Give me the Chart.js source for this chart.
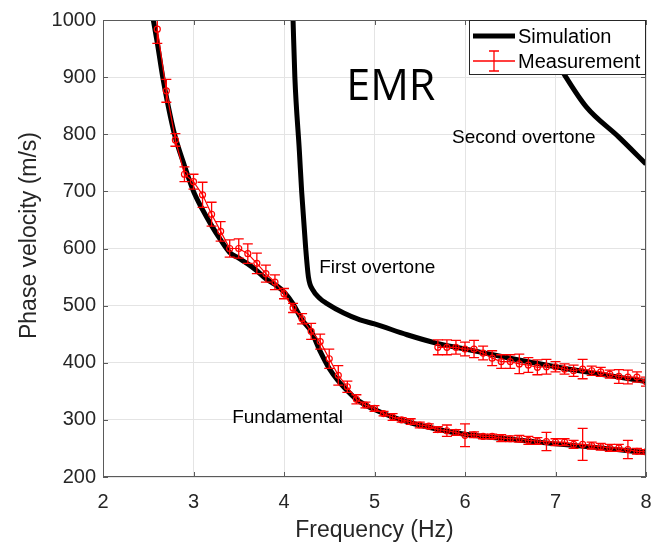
<!DOCTYPE html>
<html><head><meta charset="utf-8">
<script src="https://cdn.jsdelivr.net/npm/chart.js@4/dist/chart.umd.min.js"></script>
<style>html,body{margin:0;padding:0;background:#fff}</style>
</head><body>
<canvas id="c" width="666" height="556"></canvas>
<script>
// ---- Simulation curves ----
const simFundFreq = [2.556,2.6,2.66,2.72,2.79,2.9,3.0,3.1,3.2,3.3,3.4,3.5,3.6,3.7,3.8,3.9,4.0,4.1,4.2,4.3,4.4,4.5,4.6,4.7,4.8,4.9,5.0,5.2,5.4,5.6,5.8,6.0,6.5,7.0,7.5,8.0];
const simFundVel  = [1000,960,900,850,800,745,700,668,640,615,593,583,573,561,547,537,524,503,475,455,420,390,368,351,336,326,318,305,295,287,280,275,266,258,251,243];

const simFirstFreq = [4.10,4.12,4.17,4.195,4.24,4.27,4.32,4.4,4.47,4.66,4.84,5.0,5.36,5.69,6.0,6.5,7.0,7.5,8.0];
const simFirstVel  = [1000,900,770,700,600,550,527,512,504,487,475,468,449,434,424,408,393,380,367];

const simSecondFreq = [6.78,6.93,7.1,7.34,7.7,8.0];
const simSecondVel  = [1000,950,904,848,795,748];

// ---- Measurements (value and half error) ----
const measFundFreq = [2.6,2.7,2.8,2.9,3.0,3.1,3.2,3.3,3.4,3.5,3.6,3.7,3.8,3.9,4.0,4.1,4.2,4.3,4.4,4.5,4.6,4.7,4.8,4.9,5.0,5.1,5.2,5.3,5.4,5.5,5.6,5.7,5.8,5.9,6.0,6.1,6.2,6.3,6.4,6.5,6.6,6.7,6.8,6.9,7.0,7.1,7.2,7.3,7.4,7.5,7.6,7.7,7.8,7.9,8.0];
const measFundVel  = [984,876,790,730,717,694,660,630,600,600,591,574,556,541,521,496,477,455,437,407,378,358,336,326,320,311,305,300,297,291,289,283,281,278,273,274,271,271,268,267,267,264,263,262,261,261,257,257,255,253,251,251,248,245,244];
const measFundErr  = [25,20,11,13,13,22,21,17,15,17,17,18,15,13,9,8,9,14,13,17,17,10,8,5,5,4,6,4,5,5,4,5,10,5,20,5,4,4,6,5,6,7,6,16,6,6,7,28,6,6,6,6,16,5,4];

const measFirstFreq = [5.7,5.8,5.9,6.0,6.1,6.2,6.3,6.4,6.5,6.6,6.7,6.8,6.9,7.0,7.1,7.2,7.3,7.4,7.5,7.6,7.7,7.8,7.9,8.0];
const measFirstVel  = [427,427,427,424,424,417,408,402,402,398,396,392,393,393,389,386,389,386,384,380,376,375,375,367];
const measFirstErr  = [13,13,12,12,15,12,13,12,12,17,13,13,13,9,9,10,17,8,8,7,12,12,9,8];

// ---- Text labels ----
const labelTexts = ['EMR','Second overtone','First overtone','Fundamental'];
const labelFreq  = [5.18,6.65,5.03,4.04];
const labelVel   = [881,793,566,303];
const labelStyle = [
  {font:'43px "Open Sans"'},
  {font:'19px "Liberation Sans"'},
  {font:'19px "Liberation Sans"'},
  {font:'19px "Liberation Sans"'}
];
const yTitleText = 'Phase velocity (m/s)';

const xTickStep = 1, yTickStep = 100;
const xRange = [2,8], yRange = [200,1000];

const toPts = (xs, ys) => xs.map((x,i)=>({x:x, y:ys[i]}));

const RED = '#ff0000';
const FONT = '"Liberation Sans", Arial, sans-serif';
const TXT = '#262626';

const errorBarPlugin = {
  id:'errorBars',
  afterDatasetsDraw(chart){
    const {ctx, chartArea:a, scales:{x,y}} = chart;
    ctx.save();
    ctx.beginPath(); ctx.rect(a.left,a.top,a.right-a.left,a.bottom-a.top); ctx.clip();
    ctx.strokeStyle = RED; ctx.lineWidth = 1.3;
    chart.data.datasets.forEach(ds=>{
      if(!ds.errors) return;
      ds.data.forEach((p,i)=>{
        const px = x.getPixelForValue(p.x);
        const y1 = y.getPixelForValue(p.y + ds.errors[i]);
        const y2 = y.getPixelForValue(p.y - ds.errors[i]);
        ctx.beginPath();
        ctx.moveTo(px,y1); ctx.lineTo(px,y2);
        ctx.moveTo(px-5,y1); ctx.lineTo(px+5,y1);
        ctx.moveTo(px-5,y2); ctx.lineTo(px+5,y2);
        ctx.stroke();
      });
    });
    ctx.restore();
  }
};

const decorPlugin = {
  id:'decor',
  afterDraw(chart){
    const {ctx, chartArea:a, scales:{x,y}} = chart;
    ctx.save();
    // text labels
    ctx.fillStyle = '#000';
    ctx.textAlign = 'center'; ctx.textBaseline = 'middle';
    labelTexts.forEach((t,i)=>{
      ctx.font = labelStyle[i].font;
      ctx.fillText(t, x.getPixelForValue(labelFreq[i]), y.getPixelForValue(labelVel[i]));
    });
    // y axis title
    ctx.save();
    ctx.translate(30, a.top + (a.bottom - a.top)/2 - 13);
    ctx.rotate(-Math.PI/2);
    ctx.fillStyle = TXT; ctx.font = '23px ' + FONT;
    ctx.fillText(yTitleText, 0, 0);
    ctx.restore();
    // box + inward ticks
    ctx.strokeStyle = '#5a5a5a'; ctx.lineWidth = 1;
    ctx.strokeRect(a.left+0.5, a.top+0.5, a.right-a.left-1, a.bottom-a.top-1);
    ctx.beginPath();
    for(let v=xRange[0]; v<=xRange[1]; v+=xTickStep){
      const px = Math.round(x.getPixelForValue(v))+0.5;
      ctx.moveTo(px,a.bottom); ctx.lineTo(px,a.bottom-5);
      ctx.moveTo(px,a.top); ctx.lineTo(px,a.top+5);
    }
    for(let v=yRange[0]; v<=yRange[1]; v+=yTickStep){
      const py = Math.round(y.getPixelForValue(v))+0.5;
      ctx.moveTo(a.left,py); ctx.lineTo(a.left+5,py);
      ctx.moveTo(a.right,py); ctx.lineTo(a.right-5,py);
    }
    ctx.stroke();
    // legend
    const lw = 177, lh = 55;
    const lx = a.right - lw, ly = a.top;
    ctx.fillStyle = '#fff';
    ctx.fillRect(lx, ly, lw, lh);
    ctx.strokeStyle = '#262626'; ctx.lineWidth = 1;
    ctx.strokeRect(lx+0.5, ly+0.5, lw-1, lh-1);
    const r1 = ly + 16, r2 = ly + 41;
    ctx.strokeStyle = '#000'; ctx.lineWidth = 5;
    ctx.beginPath(); ctx.moveTo(lx+4, r1); ctx.lineTo(lx+46, r1); ctx.stroke();
    ctx.strokeStyle = RED; ctx.lineWidth = 1.3;
    ctx.beginPath();
    ctx.moveTo(lx+4, r2); ctx.lineTo(lx+46, r2);
    ctx.moveTo(lx+25, r2-10); ctx.lineTo(lx+25, r2+10);
    ctx.moveTo(lx+20, r2-10); ctx.lineTo(lx+30, r2-10);
    ctx.moveTo(lx+20, r2+10); ctx.lineTo(lx+30, r2+10);
    ctx.stroke();
    ctx.fillStyle = '#000'; ctx.textAlign = 'left';
    ctx.font = '20px ' + FONT;
    ctx.fillText('Simulation', lx+49, r1+1);
    ctx.fillText('Measurement', lx+49, r2+1);
    ctx.restore();
  }
};

const simStyle = {showLine:true, borderColor:'#000', borderWidth:5, pointRadius:0, tension:0.3, cubicInterpolationMode:'monotone', fill:false, order:2};
const measStyle = {showLine:true, borderColor:RED, borderWidth:1.2, pointRadius:3, pointStyle:'circle', pointBorderColor:RED, pointBackgroundColor:'rgba(0,0,0,0)', pointBorderWidth:1.2, tension:0, fill:false, order:1};

new Chart(document.getElementById('c'), {
  type:'scatter',
  data:{datasets:[
    Object.assign({label:'Simulation', data:toPts(simFundFreq, simFundVel)}, simStyle),
    Object.assign({label:'Simulation 1st', data:toPts(simFirstFreq, simFirstVel)}, simStyle),
    Object.assign({label:'Simulation 2nd', data:toPts(simSecondFreq, simSecondVel)}, simStyle),
    Object.assign({label:'Measurement', data:toPts(measFundFreq, measFundVel), errors:measFundErr}, measStyle),
    Object.assign({label:'Measurement 1st', data:toPts(measFirstFreq, measFirstVel), errors:measFirstErr}, measStyle)
  ]},
  options:{
    responsive:false, animation:false, devicePixelRatio:1,
    layout:{padding:{top:20, right:20, left:0, bottom:0}},
    plugins:{legend:{display:false}, tooltip:{enabled:false}},
    scales:{
      x:{type:'linear', min:xRange[0], max:xRange[1],
         afterFit(s){ s.height = 79; },
         ticks:{stepSize:xTickStep, color:TXT, font:{family:FONT, size:20}, padding:13, maxRotation:0,
                callback:(v)=>String(v)},
         grid:{color:'#e4e4e4', drawTicks:false},
         border:{display:false},
         title:{display:true, text:'Frequency (Hz)', color:TXT, font:{family:FONT, size:23}, padding:{top:0, bottom:12}}},
      y:{type:'linear', min:yRange[0], max:yRange[1],
         afterFit(s){ s.width = 103; },
         ticks:{stepSize:yTickStep, color:TXT, font:{family:FONT, size:20}, padding:7,
                callback:(v)=>String(v)},
         grid:{color:'#e4e4e4', drawTicks:false},
         border:{display:false},
         title:{display:false}}
    }
  },
  plugins:[errorBarPlugin, decorPlugin]
});
</script>
</body></html>
